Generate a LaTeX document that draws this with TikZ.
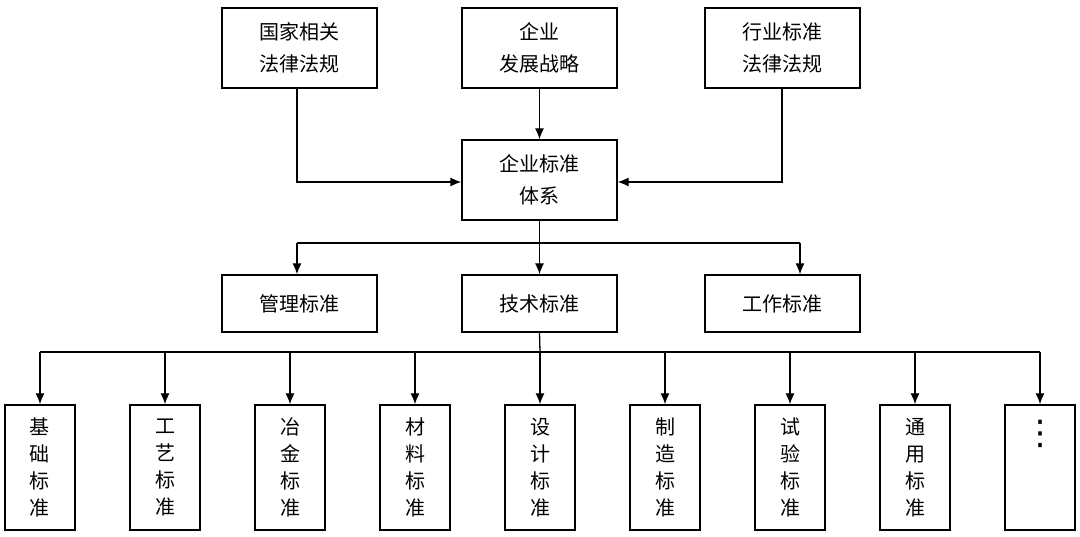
\documentclass[tikz,border=0pt]{standalone}
\usepackage{fontspec}
\newfontfamily\cjk{Noto Sans CJK SC}
\newfontfamily\dejavu{DejaVu Sans}
\usetikzlibrary{arrows.meta}
\begin{document}
\begin{tikzpicture}[x=1pt,y=-1pt,
        box/.style={draw, line width=1.3pt, fill=white, minimum width=155pt, align=center, font=\cjk\fontsize{20}{32}\selectfont, inner sep=0pt},
        tallbox/.style={box, minimum width=70pt, minimum height=125pt, font=\cjk\fontsize{20}{27}\selectfont},
        arr/.style={line width=1.3pt, -{Latex[length=11pt,width=9pt]}},
    ]
    \useasboundingbox (0,0) rectangle (1080,537);
    %Top row
    \node[box, minimum height=80pt] (law)      at (299.5,48)  {国家相关\\法律法规};
    \node[box, minimum height=80pt] (strategy) at (539.5,48)  {企业\\发展战略};
    \node[box, minimum height=80pt] (industry) at (782.5,48)  {行业标准\\法律法规};
    %Center
    \node[box, minimum height=80pt] (system)   at (539.5,180) {企业标准\\体系};
    %Second row
    \node[box, minimum height=57pt] (manage) at (299.5,303.5) {管理标准};
    \node[box, minimum height=57pt] (tech)   at (539.5,303.5) {技术标准};
    \node[box, minimum height=57pt] (work)   at (782.5,303.5) {工作标准};
    %Bottom row
    \foreach \i/\t in {0/基\\础\\标\\准, 1/工\\艺\\标\\准, 2/冶\\金\\标\\准, 3/材\\料\\标\\准,
                       4/设\\计\\标\\准, 5/制\\造\\标\\准, 6/试\\验\\标\\准, 7/通\\用\\标\\准}
        \node[tallbox] (leaf\i) at (40+125*\i,467.5) {\t};
    \node[tallbox, font=\dejavu\fontsize{34}{40}\selectfont] (leaf8) at (1040,467.5) {⋮\\[30pt]};
    %Inputs
    \coordinate (jl) at (297,182);
    \coordinate (jr) at (782,182);
    \draw[arr] (law.south -| jl) -- (jl) -- (system.west |- jl);
    \draw[arr] (industry.south -| jr) -- (jr) -- (system.east |- jr);
    \draw[arr] (strategy) -- (system);
    %Split to second row
    \coordinate (sl) at (297,243);
    \coordinate (sr) at (800,243);
    \draw[line width=1.3pt] (sl) -- (sr);
    \draw[arr] (system) -- (tech);
    \draw[arr] (sl) -- (sl |- manage.north);
    \draw[arr] (sr) -- (sr |- work.north);
    %Split to bottom row
    \coordinate (bus) at (540,352);
    \draw[line width=1.3pt] (tech.south) -- (bus);
    \draw[line width=1.3pt] (bus -| leaf0) -- (bus -| leaf8);
    \foreach \i in {0,...,8}
        \draw[arr] (bus -| leaf\i) -- (leaf\i.north);
\end{tikzpicture}
\end{document}
